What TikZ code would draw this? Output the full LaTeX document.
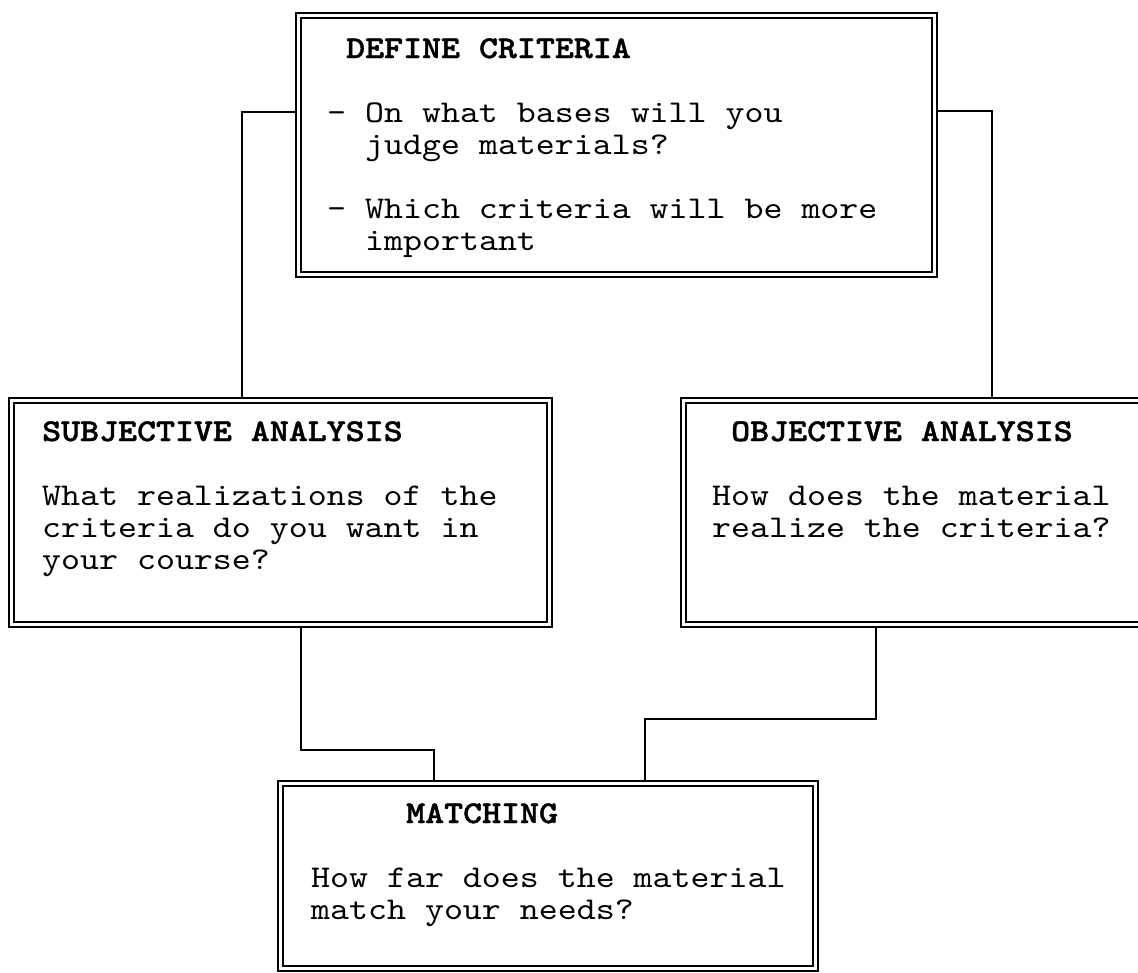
\documentclass[tikz,border=0pt]{standalone}
\usepackage{fontspec}
% typewriter face with a slab-serif look, widened to the pica pitch of the sheet
\newfontfamily\typewriter{lmmono10-regular}[Extension=.otf, BoldFont=lmmonolt10-bold,
  BoldFeatures={FakeBold=1.3}, FakeStretch=1.14]
\usetikzlibrary{backgrounds}

\tikzset{
  frame/.style={draw=black, line width=1.8pt, double=white, double distance=3.2pt,
                inner sep=0pt, minimum width=#1},
  conn/.style={draw=black, line width=1.9pt},
  txt/.style={anchor=base west, inner sep=0pt, font=\typewriter\fontsize{31.7}{32}\selectfont},
  head/.style={txt, font=\typewriter\bfseries\fontsize{31.7}{32}\selectfont}
}

\begin{document}
\begin{tikzpicture}[x=1pt, y=-1pt]
  \useasboundingbox (0,0) rectangle (1138,972);
  \clip (0,0) rectangle (1138,972);

  % boxes (double-ruled frames)
  \node[frame=636pt, minimum height=259pt] (top)   at (616.5,145)   {};
  \node[frame=538pt, minimum height=224pt] (left)  at (280.5,512.5) {};
  \node[frame=458pt, minimum height=224pt] (obj)   at (912.5,512.5) {};
  \node[frame=535pt, minimum height=185pt] (match) at (548,876)     {};

  % connectors run behind the frames
  \begin{scope}[on background layer]
    \draw[conn] ([yshift=-97.5pt]top.north west) -| ([xshift=-38.5pt]left.north);
    \draw[conn] ([yshift=-96.5pt]top.north east) -| ([xshift=79.5pt]obj.north);
    \draw[conn] ([xshift=20.5pt]left.south)
                |- ([xshift=-114pt,yshift=32.5pt]match.north)
                -- ([xshift=-114pt]match.north);
    \draw[conn] ([xshift=-36.5pt]obj.south)
                |- ([xshift=97pt,yshift=63.5pt]match.north)
                -- ([xshift=97pt]match.north);
  \end{scope}

  % DEFINE CRITERIA
  \node[head] (t0) at (346,58)  {DEFINE CRITERIA};
  \node[txt]  (t1) at (327,122) {- On what bases will you};
  \node[txt]  (t2) at (365,154) {judge materials?};
  \node[txt]  (t3) at (327,218) {- Which criteria will be more};
  \node[txt]  (t4) at (365,250) {important};

  % SUBJECTIVE ANALYSIS
  \node[head] (s0) at (42,441) {SUBJECTIVE ANALYSIS};
  \node[txt]  (s1) at (42,505) {What realizations of the};
  \node[txt]  (s2) at (42,537) {criteria do you want in};
  \node[txt]  (s3) at (42,569) {your course?};

  % OBJECTIVE ANALYSIS
  \node[head] (o0) at (731,441) {OBJECTIVE ANALYSIS};
  \node[txt]  (o1) at (712,505) {How does the material};
  \node[txt]  (o2) at (712,537) {realize the criteria?};

  % MATCHING
  \node[head] (m0) at (406,823) {MATCHING};
  \node[txt]  (m1) at (311,887) {How far does the material};
  \node[txt]  (m2) at (311,919) {match your needs?};
\end{tikzpicture}
\end{document}
